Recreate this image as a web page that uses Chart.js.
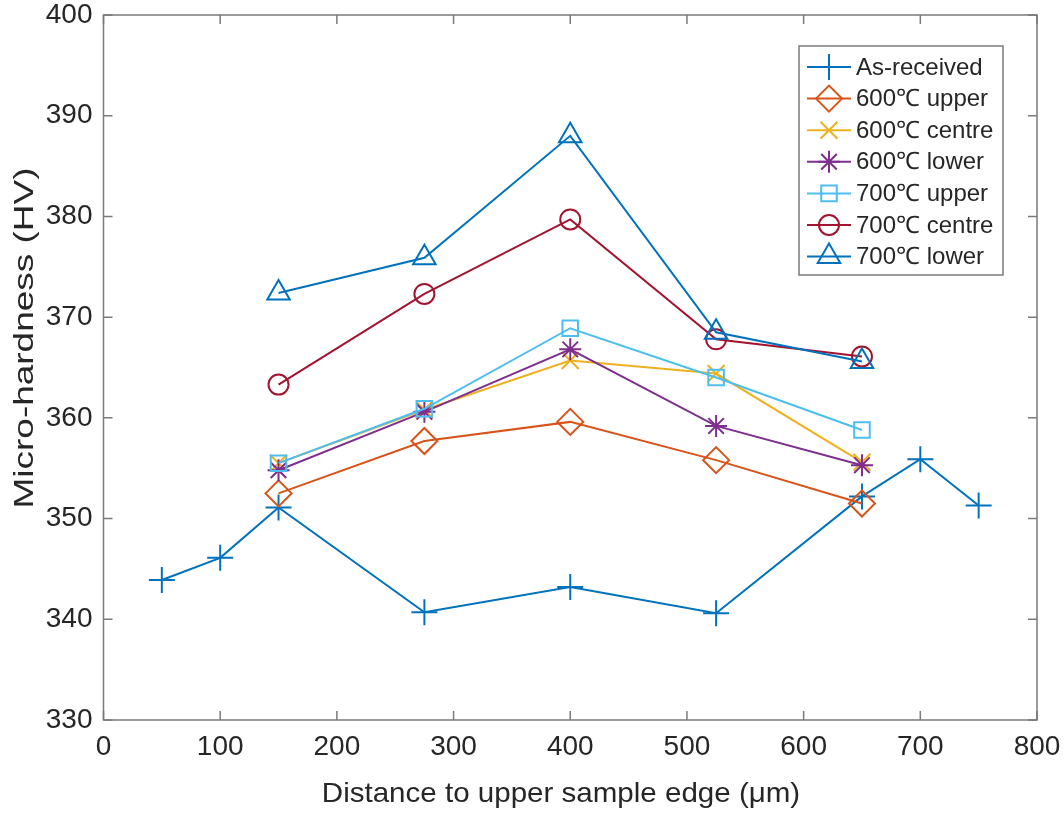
<!DOCTYPE html>
<html>
<head>
<meta charset="utf-8">
<script src="https://cdn.jsdelivr.net/npm/chart.js@4/dist/chart.umd.min.js"></script>
<style>
  html, body { margin: 0; padding: 0; background: #fff; }
  canvas { display: block; }
</style>
</head>
<body>
<canvas id="hardness" width="1064" height="814"></canvas>
<script>
// Data
const seriesNames = ['As-received', '600\u2103 upper', '600\u2103 centre', '600\u2103 lower',
                     '700\u2103 upper', '700\u2103 centre', '700\u2103 lower'];
const xAsReceived = [50, 100, 150, 275, 400, 525, 650, 700, 750];
const yAsReceived = [343.9, 346.1, 351.1, 340.7, 343.2, 340.6, 352.2, 355.9, 351.3];
const xHeat = [150, 275, 400, 525, 650];
const y600upper  = [352.5, 357.7, 359.6, 355.8, 351.5];
const y600centre = [355.5, 360.8, 365.7, 364.4, 355.6];
const y600lower  = [354.8, 360.6, 366.8, 359.2, 355.3];
const y700upper  = [355.5, 360.9, 368.9, 364.0, 358.8];
const y700centre = [363.3, 372.3, 379.7, 367.8, 366.1];
const y700lower  = [372.4, 375.9, 388.0, 368.5, 365.6];
const xTicks = [0, 100, 200, 300, 400, 500, 600, 700, 800];
const yTicks = [330, 340, 350, 360, 370, 380, 390, 400];
const xTitle = 'Distance to upper sample edge (\u03bcm)';
const yTitle = 'Micro-hardness (HV)';

// MATLAB default colour order, marker styles
const colors = ['#0072BD', '#D95319', '#EDB120', '#7E2F8E', '#4DBEEE', '#A2142F', '#0072BD'];
const markers = ['cross', 'rectRot', 'crossRot', 'star', 'rect', 'circle', 'triangle'];
const markerSize = [13, 13, 12, 11, 11, 10, 13];

const FONT = "'Liberation Sans', Arial, sans-serif";
const frameColor = '#7a7a7a';
const textColor = '#262626';

const yValues = [yAsReceived, y600upper, y600centre, y600lower, y700upper, y700centre, y700lower];

function toPoints(xs, ys) {
  return xs.map((x, i) => ({ x: x, y: ys[i] }));
}

const datasets = yValues.map((ys, i) => ({
  label: seriesNames[i],
  data: toPoints(i === 0 ? xAsReceived : xHeat, ys),
  showLine: true,
  borderColor: colors[i],
  borderWidth: 2,
  pointStyle: markers[i],
  pointRadius: markerSize[i],
  pointHoverRadius: markerSize[i],
  pointBorderColor: colors[i],
  pointBackgroundColor: 'rgba(0,0,0,0)',
  pointBorderWidth: 2,
  order: 6 - i
}));

// Box, inward tick marks on all four sides, axis titles
const framePlugin = {
  id: 'frame',
  afterDraw(chart) {
    const ctx = chart.ctx;
    const a = chart.chartArea;
    const xs = chart.scales.x, ys = chart.scales.y;
    const tl = 9;
    ctx.save();
    ctx.strokeStyle = frameColor;
    ctx.lineWidth = 1.5;
    ctx.strokeRect(a.left, a.top, a.right - a.left, a.bottom - a.top);
    ctx.beginPath();
    xTicks.forEach(v => {
      const px = xs.getPixelForValue(v);
      ctx.moveTo(px, a.bottom); ctx.lineTo(px, a.bottom - tl);
      ctx.moveTo(px, a.top); ctx.lineTo(px, a.top + tl);
    });
    yTicks.forEach(v => {
      const py = ys.getPixelForValue(v);
      ctx.moveTo(a.left, py); ctx.lineTo(a.left + tl, py);
      ctx.moveTo(a.right, py); ctx.lineTo(a.right - tl, py);
    });
    ctx.stroke();

    // axis titles (the source figure's lettering is a little stretched)
    ctx.fillStyle = textColor;
    ctx.font = '28px ' + FONT;
    ctx.textAlign = 'center';
    ctx.textBaseline = 'alphabetic';
    ctx.save();
    ctx.translate(561, 802);
    ctx.scale(1.055, 1);
    ctx.fillText(xTitle, 0, 0);
    ctx.restore();
    ctx.save();
    ctx.translate(33, 338);
    ctx.rotate(-Math.PI / 2);
    ctx.scale(1.32, 1);
    ctx.fillText(yTitle, 0, 0);
    ctx.restore();
    ctx.restore();
  }
};

// MATLAB-style legend: line segment with marker, boxed at the top right
const legendPlugin = {
  id: 'matlabLegend',
  afterDraw(chart) {
    const ctx = chart.ctx;
    const box = { left: 799, top: 46, width: 204, height: 229 };
    const rowH = 31.6;
    ctx.save();
    ctx.fillStyle = '#fff';
    ctx.fillRect(box.left, box.top, box.width, box.height);
    ctx.strokeStyle = frameColor;
    ctx.lineWidth = 1.5;
    ctx.strokeRect(box.left, box.top, box.width, box.height);
    chart.data.datasets.forEach((ds, i) => {
      const y = box.top + 21 + i * rowH;
      ctx.strokeStyle = ds.borderColor;
      ctx.lineWidth = 2;
      ctx.beginPath();
      ctx.moveTo(box.left + 8, y);
      ctx.lineTo(box.left + 52, y);
      ctx.stroke();
      ctx.fillStyle = 'rgba(0,0,0,0)';
      Chart.helpers.drawPoint(ctx, {
        pointStyle: ds.pointStyle,
        radius: ds.pointRadius,
        rotation: 0,
        borderWidth: 2
      }, box.left + 30, y);
      ctx.fillStyle = textColor;
      ctx.font = '24px ' + FONT;
      ctx.textAlign = 'left';
      ctx.textBaseline = 'middle';
      ctx.fillText(ds.label, box.left + 57, y + 1);
    });
    ctx.restore();
  }
};

new Chart(document.getElementById('hardness'), {
  type: 'scatter',
  data: { datasets: datasets },
  options: {
    responsive: false,
    animation: false,
    layout: { padding: { left: 0, top: 15, right: 27, bottom: 0 } },
    scales: {
      x: {
        type: 'linear',
        min: 0,
        max: 800,
        afterBuildTicks: s => { s.ticks = xTicks.map(v => ({ value: v })); },
        afterFit: s => { s.height = 94; s.paddingLeft = 0; s.paddingRight = 0; },
        grid: { drawOnChartArea: false, drawTicks: false },
        border: { display: false },
        ticks: {
          color: textColor,
          padding: 10,
          maxRotation: 0,
          font: { family: FONT, size: 28 }
        },
        title: { display: false }
      },
      y: {
        min: 330,
        max: 400,
        afterBuildTicks: s => { s.ticks = yTicks.map(v => ({ value: v })); },
        afterFit: s => { s.width = 103.5; s.paddingTop = 0; s.paddingBottom = 0; },
        grid: { drawOnChartArea: false, drawTicks: false },
        border: { display: false },
        ticks: {
          color: textColor,
          padding: 11,
          font: { family: FONT, size: 28 }
        },
        title: { display: false }
      }
    },
    plugins: {
      legend: { display: false },
      tooltip: { enabled: false }
    }
  },
  plugins: [framePlugin, legendPlugin]
});
</script>
</body>
</html>
